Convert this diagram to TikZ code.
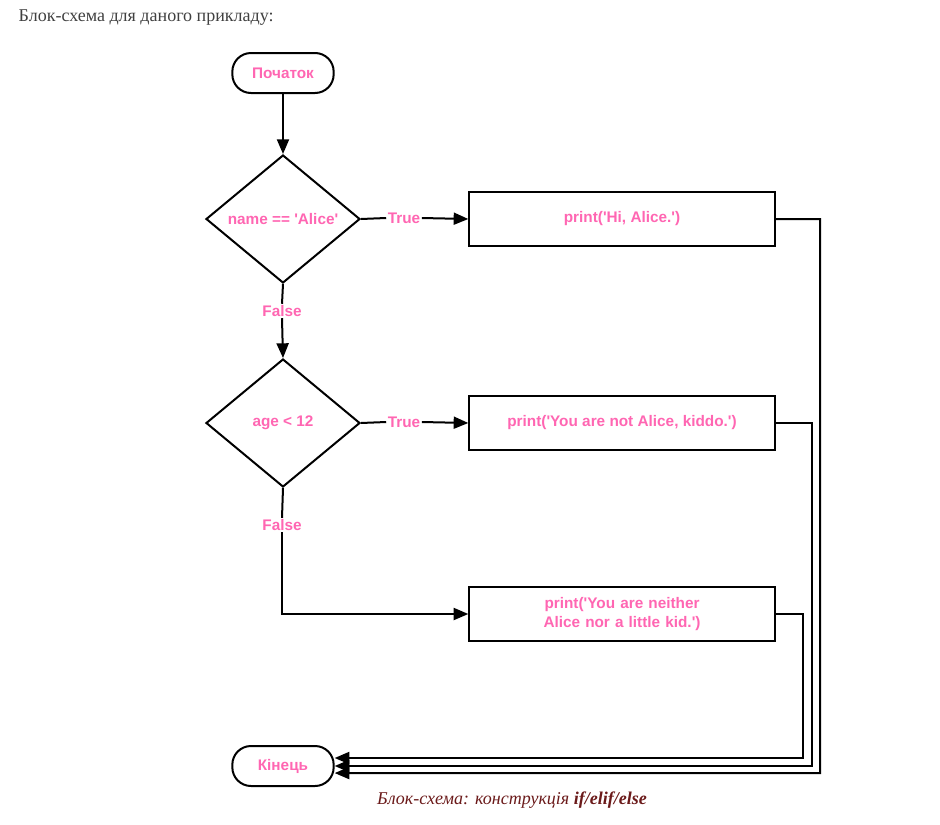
\documentclass[tikz,border=0pt]{standalone}
\usepackage{fontspec}
\setmainfont{Liberation Serif}
\newfontfamily\lsans{Liberation Sans}
\usetikzlibrary{shapes.geometric,arrows.meta}
\definecolor{pinkt}{HTML}{FF66B2}
\definecolor{capred}{HTML}{6B1A1A}
\begin{document}
\begin{tikzpicture}[x=0.75pt,y=-0.75pt,
  lab/.style={font=\lsans\bfseries\fontsize{11.5}{14}\selectfont, text=pinkt},
  term/.style={lab, draw, line width=1.5pt, rounded corners=14pt, minimum width=76pt, minimum height=30pt, inner sep=0pt},
  dec/.style={lab, draw, line width=1.5pt, diamond, minimum width=115.5pt, minimum height=96pt, inner sep=0pt},
  proc/.style={lab, draw, line width=1.5pt, minimum width=229pt, minimum height=41pt, inner sep=0pt, align=center},
  arr/.style={line width=1.5pt, -{Triangle[length=11pt,width=9pt]}},
  ln/.style={line width=1.5pt}]
\useasboundingbox (0,0) rectangle (940,825);
\node[anchor=west, font=\fontsize{13.5}{16}\selectfont, text=black!75] (title) at (14,18) {Блок-схема для даного прикладу:};
\node[term] (start) at (283,73) {Початок};
\node[dec] (d1) at (283,219) {name == 'Alice'};
\node[proc] (b1) at (622,219) {print('Hi, Alice.')};
\node[dec] (d2) at (283,423) {age < 12};
\node[proc] (b2) at (622,423) {print('You are not Alice, kiddo.')};
\node[proc, text width=220pt] (b3) at (622,614) {print('You are neither Alice nor a little kid.')};
\node[term] (end) at (283,766) {Кінець};
\node[lab, fill=white, inner sep=1pt] (t1) at (404,218) {True};
\node[lab, fill=white, inner sep=1pt] (t2) at (404,422) {True};
\node[lab, fill=white, inner sep=1pt] (f1) at (282,311) {False};
\node[lab, fill=white, inner sep=1pt] (f2) at (282,525) {False};
\node[anchor=center, text=capred, font=\itshape\fontsize{13.5}{16}\selectfont] (cap) at (512,800) {Блок-схема: конструкція \textbf{if/elif/else}};
\draw[arr] (start) -- (d1);
\draw[ln] (d1.east) -- (t1.west);
\draw[arr] (t1.east) -- (b1.west);
\draw[ln] (d1.south) -- (f1.north);
\draw[arr] (f1.south) -- (d2.north);
\draw[ln] (d2.east) -- (t2.west);
\draw[arr] (t2.east) -- (b2.west);
\draw[ln] (d2.south) -- (f2.north);
\draw[arr] (f2.south) |- (b3.west);
\coordinate (c1) at (820,219);
\coordinate (c2) at (812,423);
\coordinate (c3) at (803,614);
\draw[arr] (b1.east) -- (c1) -- (c1 |- 0,773) -- ([yshift=-5.3pt]end.east);
\draw[arr] (b2.east) -- (c2) -- (c2 |- 0,766) -- (end.east);
\draw[arr] (b3.east) -- (c3) -- (c3 |- 0,758) -- ([yshift=6pt]end.east);
\end{tikzpicture}
\end{document}
